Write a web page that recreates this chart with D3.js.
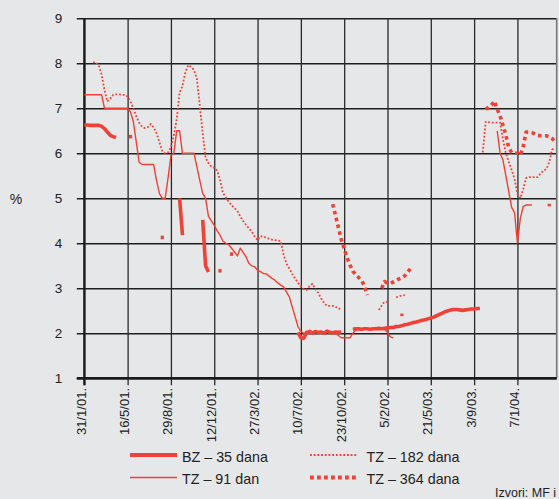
<!DOCTYPE html>
<html>
<head>
<meta charset="utf-8">
<script src="https://cdn.jsdelivr.net/npm/d3@7"></script>
<style>
  body { margin: 0; background: #e6e7e9; }
  svg { display: block; font-family: "Liberation Sans", Arial, sans-serif; }
</style>
</head>
<body>
<div id="chart"></div>
<script>
// Weekly treasury bill rates (%), auctions on Wednesdays

// auction calendar: every Wednesday, holiday weeks skipped
const firstAuction = "2001-01-31";
const lastAuction = "2004-04-07";
const skippedWeeks = ["2003-12-17", "2003-12-24", "2003-12-31"];

const tickDates = ["2001-01-31", "2001-05-16", "2001-08-29", "2001-12-12", "2002-03-27", "2002-07-10",
                   "2002-10-23", "2003-02-05", "2003-05-21", "2003-09-03", "2004-01-07"];
const tickLabels = ["31/1/01.", "16/5/01.", "29/8/01.", "12/12/01.", "27/3/02.", "10/7/02.",
                    "23/10/02.", "5/2/02.", "21/5/03.", "3/9/03.", "7/1/04."];
const yTicks = [1, 2, 3, 4, 5, 6, 7, 8, 9];

// each series = runs of consecutive auctions: [first auction date, values...]
const bz35 = [
  ["2001-01-31", [6.63, 6.63, 6.62, 6.62, 6.62, 6.62, 6.60, 6.55, 6.47, 6.40, 6.37, 6.35]],
  ["2001-05-23", [6.37]],
  ["2001-08-08", [4.13]],
  ["2001-09-19", [5.00, 4.18]],
  ["2001-11-14", [4.52, 3.50, 3.36]],
  ["2001-12-26", [3.39]],
  ["2002-01-23", [3.76]],
  ["2002-07-03", [2.02, 1.90, 1.89, 2.02, 2.03, 2.00, 2.04, 2.02, 2.03, 2.00, 2.05, 2.02, 2.01, 2.03, 2.02, 2.03]],
  ["2002-11-13", [2.09, 2.10, 2.10, 2.09, 2.10, 2.10, 2.09, 2.10, 2.10, 2.11, 2.10, 2.11, 2.12, 2.13, 2.13,
                  2.15, 2.15, 2.17, 2.19, 2.20, 2.22, 2.24, 2.25, 2.27, 2.29, 2.30, 2.32, 2.34, 2.36, 2.39,
                  2.42, 2.45, 2.48, 2.50, 2.52, 2.53, 2.53, 2.52, 2.51, 2.52, 2.53, 2.54, 2.54, 2.55, 2.55]]
];

const tz91 = [
  ["2001-01-31", [7.30, 7.30, 7.30, 7.30, 7.30, 7.30, 7.30, 7.00, 7.00, 7.00, 7.00, 7.00, 7.00, 7.00, 7.00, 7.00,
                  6.92, 6.70, 6.25, 5.80, 5.75, 5.75, 5.75, 5.75, 5.75, 5.40, 5.11, 5.00, 5.00, 5.45, 5.95, 6.00,
                  6.50, 6.50, 6.00, 6.00, 6.00, 6.00, 6.00, 5.70, 5.40, 5.11, 5.00, 4.60, 4.50, 4.40, 4.28, 4.18,
                  4.05, 4.00, 3.97, 3.89, 3.81, 3.72, 3.89, 3.80, 3.70, 3.55, 3.50, 3.48, 3.40, 3.37, 3.33, 3.32,
                  3.27, 3.22, 3.18, 3.12, 3.07, 3.03, 2.92, 2.81, 2.59, 2.37, 2.15, 2.04, 2.00, 2.00, 2.07, 2.03,
                  2.03, 2.02, 2.02, 2.03, 2.04, 2.02, 2.02, 2.00, 1.95, 1.90, 1.90, 1.90, 1.90, 2.00, 2.07, 2.08,
                  2.08, 2.09, 2.09, 2.08, 2.09, 2.10, 2.09, 2.10, 2.09, 2.02, 1.92, 1.90]],
  ["2003-03-12", [2.41]],
  ["2003-10-29", [6.50, 6.00, 5.85, 5.50, 5.15, 4.80, 4.68, 4.01, 4.55, 4.82, 4.85, 4.85, 4.85]],
  ["2004-03-24", [4.85]]
];

const tz182 = [
  ["2001-02-21", [8.02, 8.02, 7.96, 7.75, 7.40, 7.15, 7.22, 7.30, 7.31, 7.31, 7.30, 7.30, 7.26, 7.15, 7.00,
                  6.82, 6.68, 6.59, 6.56, 6.58, 6.65, 6.58, 6.45, 6.25, 6.05, 6.00, 6.02, 6.13, 6.40, 6.75,
                  7.35, 7.50, 7.80, 7.96, 7.92, 7.85, 7.65, 7.05, 6.45, 5.90, 5.78, 5.70, 5.68, 5.62, 5.41,
                  5.12, 5.02, 4.92, 4.85, 4.78, 4.72, 4.60, 4.50, 4.41, 4.33, 4.26, 4.15, 4.07, 4.16, 4.14,
                  4.13, 4.10, 4.08, 4.07, 4.06, 4.05, 3.75, 3.55, 3.44, 3.32, 3.22, 3.12, 3.04, 2.98, 2.96,
                  3.05, 3.10, 2.98, 2.90, 2.78, 2.68, 2.61, 2.61, 2.61, 2.58, 2.57, 2.50]],
  ["2003-01-15", [2.52, 2.62, 2.70, 2.70]],
  ["2003-02-26", [2.80, 2.82, 2.84, 2.85]],
  ["2003-09-24", [6.02, 6.70, 6.69, 6.68, 6.68, 6.68, 6.68, 6.30, 6.00, 5.81, 5.63, 5.43, 5.10, 5.00, 5.20,
                  5.45, 5.47, 5.47, 5.47, 5.47, 5.55, 5.61, 5.65, 5.80, 6.08, 6.12]]
];

const tz364 = [
  ["2002-09-25", [4.87, 4.62, 4.35, 4.08, 3.88, 3.68, 3.52, 3.38, 3.30, 3.24, 3.18, 3.05, 2.85]],
  ["2003-01-22", [3.00, 3.15, 3.12, 3.11, 3.14, 3.17, 3.21, 3.24, 3.28, 3.36, 3.44]],
  ["2003-10-01", [6.98, 7.02, 7.07, 7.16, 6.98, 6.83, 6.62, 6.40, 6.12, 6.02, 6.00, 6.00, 5.96, 6.15, 6.47,
                  6.47, 6.46, 6.43, 6.40, 6.39, 6.39, 6.39, 6.37, 6.33, 6.25]]
];

const seriesNames = ["BZ – 35 dana", "TZ – 91 dan", "TZ – 182 dana", "TZ – 364 dana"];

// ---------------------------------------------------------------
const svgWidth = 559, svgHeight = 499;
const margin = {top: 18.3, left: 84.3};
const plotW = 472.4, plotH = 360;
const red = "#ef4136";

const fmt = d3.timeFormat("%Y-%m-%d");
const parse = d3.timeParse("%Y-%m-%d");
const auctions = d3.timeWednesday
  .range(parse(firstAuction), d3.timeDay.offset(parse(lastAuction), 1))
  .map(fmt)
  .filter(d => !skippedWeeks.includes(d));

const step = plotW / (auctions.length - 1 + 0.6);

const x = d3.scalePoint()
  .domain(auctions)
  .range([0, step * (auctions.length - 1)]);

const y = d3.scaleLinear()
  .domain([1, 9])
  .range([plotH, 0]);

const svg = d3.select("#chart").append("svg")
  .attr("width", svgWidth)
  .attr("height", svgHeight);

svg.append("rect")
  .attr("width", svgWidth).attr("height", svgHeight)
  .attr("fill", "#e6e7e9");

const g = svg.append("g")
  .attr("transform", "translate(" + margin.left + "," + margin.top + ")");

// y axis + horizontal grid
const yAxis = g.append("g")
  .call(d3.axisLeft(y).tickValues(yTicks).tickSizeInner(-plotW).tickSizeOuter(0).tickPadding(22))
  .call(a => a.select(".domain").remove());
yAxis.selectAll(".tick line")
  .attr("x1", -7.5)
  .attr("stroke", "#1e1e1e")
  .attr("stroke-width", 1.5);
yAxis.selectAll(".tick text")
  .attr("fill", "#222")
  .style("font-size", "13.5px");

// x axis + vertical grid
const xAxis = g.append("g")
  .attr("transform", "translate(0," + plotH + ")")
  .call(d3.axisBottom(x).tickValues(tickDates).tickFormat((d, i) => tickLabels[i])
    .tickSizeInner(-plotH).tickSizeOuter(0))
  .call(a => a.select(".domain").remove());
xAxis.selectAll(".tick line")
  .attr("y1", 7)
  .attr("stroke", "#2a2a2a")
  .attr("stroke-width", 1.3);
xAxis.selectAll(".tick text")
  .attr("transform", "rotate(-90)")
  .attr("text-anchor", "end")
  .attr("x", -9.7)
  .attr("y", 1)
  .attr("dy", 0)
  .attr("fill", "#222")
  .style("font-size", "13px");

// frame
g.append("line").attr("x1", plotW).attr("x2", plotW).attr("y1", 0).attr("y2", plotH)
  .attr("stroke", "#777").attr("stroke-width", 1.6);
g.append("line").attr("x1", 0).attr("x2", 0).attr("y1", 0).attr("y2", plotH + 7)
  .attr("stroke", "#1a1a1a").attr("stroke-width", 2.2);
g.append("line").attr("x1", -7.5).attr("x2", plotW).attr("y1", plotH).attr("y2", plotH)
  .attr("stroke", "#1a1a1a").attr("stroke-width", 2.4);

// "%" label
svg.append("text")
  .attr("x", 16).attr("y", 203.5)
  .attr("text-anchor", "middle")
  .attr("fill", "#222")
  .style("font-size", "14px")
  .text("%");

// series
const styles = [
  {data: bz35, width: 3.6, dash: null},
  {data: tz91, width: 1.4, dash: null},
  {data: tz182, width: 1.8, dash: "1.8 1.9"},
  {data: tz364, width: 3.6, dash: "3.6 3.4"}
];

const line = d3.line()
  .x(d => x(d[0]))
  .y(d => y(d[1]));

styles.forEach(s => {
  s.data.forEach(run => {
    const start = auctions.indexOf(run[0]);
    const pts = run[1].map((v, i) => [auctions[start + i], v]);
    if (pts.length > 1) {
      g.append("path")
        .datum(pts)
        .attr("d", line)
        .attr("fill", "none")
        .attr("stroke", red)
        .attr("stroke-width", s.width)
        .attr("stroke-linejoin", "round")
        .attr("stroke-dasharray", s.dash);
    } else {
      // single auction: short mark
      g.append("line")
        .attr("x1", x(pts[0][0]) - 1.6).attr("x2", x(pts[0][0]) + 1.6)
        .attr("y1", y(pts[0][1])).attr("y2", y(pts[0][1]))
        .attr("stroke", red)
        .attr("stroke-width", Math.max(s.width, 2.6));
    }
  });
});

// legend
const legendItems = [
  {name: seriesNames[0], x: 130, y: 455, width: 4.2, dash: null},
  {name: seriesNames[1], x: 130, y: 477.5, width: 1.6, dash: null},
  {name: seriesNames[2], x: 310, y: 455, width: 1.8, dash: "1.8 1.9"},
  {name: seriesNames[3], x: 310, y: 477.5, width: 3.8, dash: "3.8 3.2"}
];
const legend = svg.append("g");
legendItems.forEach((d, i) => {
  legend.append("line")
    .attr("x1", d.x).attr("x2", d.x + 47)
    .attr("y1", d.y).attr("y2", d.y)
    .attr("stroke", red)
    .attr("stroke-width", d.width)
    .attr("stroke-dasharray", d.dash);
  legend.append("text")
    .attr("x", i < 2 ? 182 : 366.5)
    .attr("y", d.y + 6.5)
    .attr("fill", "#222")
    .style("font-size", "14.3px")
    .text(d.name);
});

svg.append("text")
  .attr("x", 495).attr("y", 497)
  .attr("fill", "#222")
  .style("font-size", "12.5px")
  .text("Izvori: MF i");
</script>
</body>
</html>
